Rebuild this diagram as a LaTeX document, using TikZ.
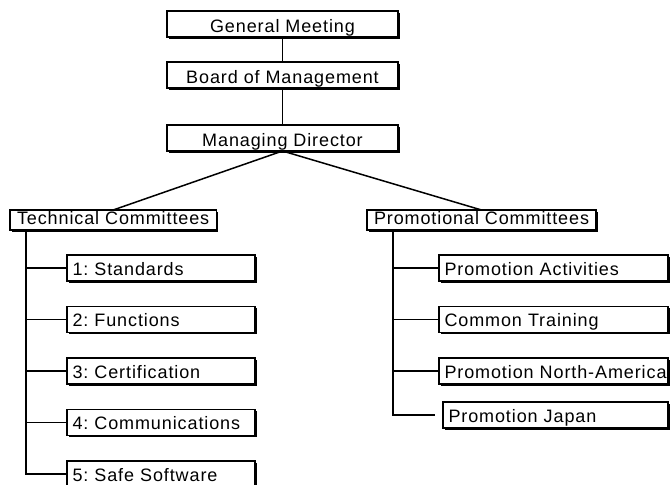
\documentclass[tikz,border=0pt]{standalone}
\usepackage{fontspec}
\setmainfont{Liberation Sans}[LetterSpace=5]
\usetikzlibrary{positioning, shadows}
\tikzset{
    box/.style={
        draw,
        fill=white,
        line width=1.2pt,
        outer sep=0pt,
        drop shadow={shadow xshift=1.5pt, shadow yshift=-1.5pt, fill=black, opacity=1},
        font=\fontsize{18pt}{21pt}\selectfont\frenchspacing,
    },
    unit/.style={
        box,
        minimum width=231pt,
        inner xsep=0pt,
        inner ysep=3pt,
        text height=18.5pt,
        text depth=1.5pt,
    },
    committee/.style={
        box,
        inner xsep=7pt,
        inner ysep=0pt,
        text height=14pt,
        text depth=6pt,
    },
    task/.style={
        box,
        anchor=north west,
        align=left,
        text width=#1,
        inner xsep=5.5pt,
        inner ysep=3pt,
        text height=17pt,
        text depth=3pt,
    },
    task/.default=177pt,
    link/.style={line width=1.5pt},
}

\begin{document}
\begin{tikzpicture}[x=1pt, y=1pt, node distance=25pt]
                   \useasboundingbox (0,0) rectangle (670,-485);
                   \node[unit] (gm) at (282.5,-24) {General Meeting};
                   \node[unit, below=of gm] (bm) {Board of Management};
                   \node[unit, below=37pt of bm] (md) {Managing Director};
                   \node[committee, anchor=west] (tc) at (10,-220) {Technical Committees};
                   \node[committee, anchor=west] (pc) at (367,-220) {Promotional Committees};
                   \draw[link] (gm) -- (bm);
                   \draw[link] (bm) -- (md);
                   \draw[link] (md.south) -- (tc.north);
                   \draw[link] (md.south) -- (pc.north);
                   \node[task] (t1) at ([xshift=57pt, yshift=-25pt]tc.south west) {1: Standards};
                   \node[task, below=25.5pt of t1] (t2) {2: Functions};
                   \node[task, below=25.5pt of t2] (t3) {3: Certification};
                   \node[task, below=25.5pt of t3] (t4) {4: Communications};
                   \node[task, below=25.5pt of t4] (t5) {5: Safe Software};
                   \coordinate (tbus) at ([xshift=16pt]tc.south west);
                   \draw[link] (tbus) |- (t1.west);
                   \draw[link] (tbus) |- (t2.west);
                   \draw[link] (tbus) |- (t3.west);
                   \draw[link] (tbus) |- (t4.west);
                   \draw[link] (tbus) |- (t5.west);
                   \node[task=218pt] (p1) at ([xshift=72pt, yshift=-25pt]pc.south west) {Promotion Activities};
                   \node[task=218pt, below=25.5pt of p1] (p2) {Common Training};
                   \node[task=218pt, below=25.5pt of p2] (p3) {\mbox{Promotion North-America}};
                   \node[task=214pt] (p4) at ([xshift=4pt, yshift=-18pt]p3.south west) {Promotion Japan};
                   \coordinate (pbus) at ([xshift=26pt]pc.south west);
                   \draw[link] (pbus) |- (p1.west);
                   \draw[link] (pbus) |- (p2.west);
                   \draw[link] (pbus) |- (p3.west);
                   \draw[link] (pbus) |- ([xshift=-8pt]p4.west);
                   \end{tikzpicture}
\end{document}
